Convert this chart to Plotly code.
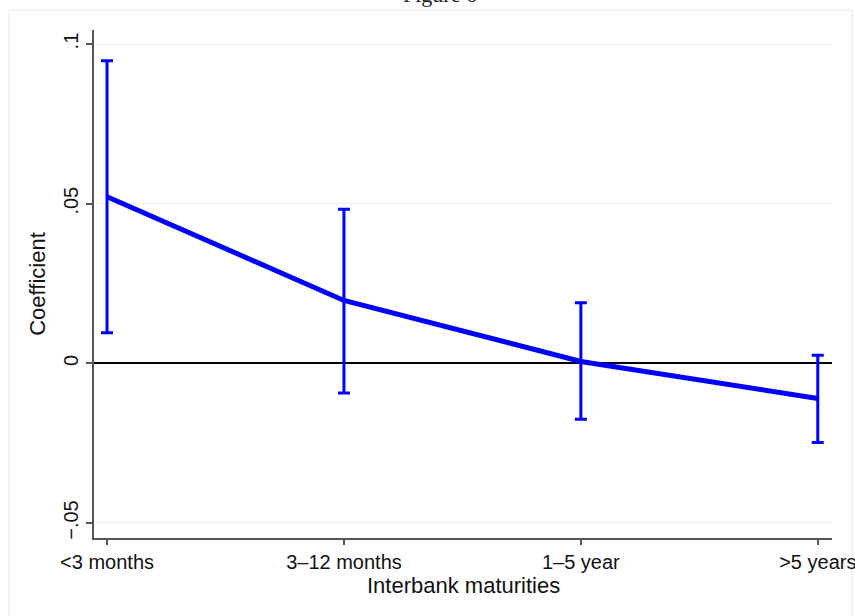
import plotly.graph_objects as go

categories = ["<3 months", "3\u201312 months", "1\u20135 year", ">5 years"]
coef = [0.0522, 0.0197, 0.0006, -0.0110]
upper = [0.0948, 0.0483, 0.0190, 0.0025]
lower = [0.0096, -0.0093, -0.0175, -0.0248]
ytick_vals = [-0.05, 0, 0.05, 0.1]
ytick_text = ["\u2212.05", "0", ".05", ".1"]

xpos = list(range(len(categories)))
err_plus = [u - c for u, c in zip(upper, coef)]
err_minus = [c - l for c, l in zip(coef, lower)]

W, H = 855, 616
L, R, T, B = 94, 23, 30, 78
pw, ph = W - L - R, H - T - B

def px_x(p):
    return (p - L) / pw

def px_y(p):
    return (T + ph - p) / ph

fig = go.Figure()
fig.add_trace(go.Scatter(
    x=xpos, y=coef, mode="lines",
    line=dict(color="#0000ff", width=5),
    error_y=dict(type="data", symmetric=False, array=err_plus, arrayminus=err_minus,
                 color="#0000ff", thickness=3, width=6),
    showlegend=False, hoverinfo="skip",
))

fig.add_shape(type="rect", xref="paper", yref="paper",
              x0=px_x(9), x1=px_x(852), y0=px_y(640), y1=px_y(10),
              line=dict(color="#e4ecee", width=1), layer="below")

fig.add_annotation(text="Figure 6", xref="paper", yref="paper",
                   x=px_x(440), y=px_y(9), xanchor="center", yanchor="bottom",
                   showarrow=False, font=dict(family="Liberation Serif", size=22, color="#222"))

fig.add_annotation(text="Interbank maturities", xref="paper", yref="paper",
                   x=0.5, y=px_y(585), xanchor="center", yanchor="middle",
                   showarrow=False, font=dict(size=22, color="#111"))

fig.update_layout(
    width=W, height=H,
    margin=dict(l=L, r=R, t=T, b=B, autoexpand=False),
    paper_bgcolor="white", plot_bgcolor="white",
    font=dict(family="Liberation Sans, Arial", size=20, color="#111"),
    xaxis=dict(
        range=[-0.055, 3.06], tickvals=xpos, ticktext=categories,
        showgrid=False, zeroline=False, automargin=False,
        showline=True, linecolor="#555", linewidth=2,
        ticks="outside", ticklen=5, tickcolor="#555", tickwidth=1.5,
        tickfont=dict(size=20), ticklabeloverflow="allow",
    ),
    yaxis=dict(
        range=[-0.0547, 0.1044], tickvals=ytick_vals, ticktext=ytick_text,
        tickangle=-90, automargin=False,
        showgrid=True, gridcolor="#e8eff1", gridwidth=1,
        zeroline=True, zerolinecolor="#000", zerolinewidth=1.5,
        showline=True, linecolor="#555", linewidth=2,
        ticks="outside", ticklen=6, tickcolor="#555", tickwidth=1.5,
        tickfont=dict(size=20),
        title=dict(text="Coefficient", font=dict(size=22), standoff=8),
    ),
)

fig.write_html("out.html", config={"displayModeBar": False},
               post_script="document.body.style.margin='0';document.body.style.overflow='hidden';")
